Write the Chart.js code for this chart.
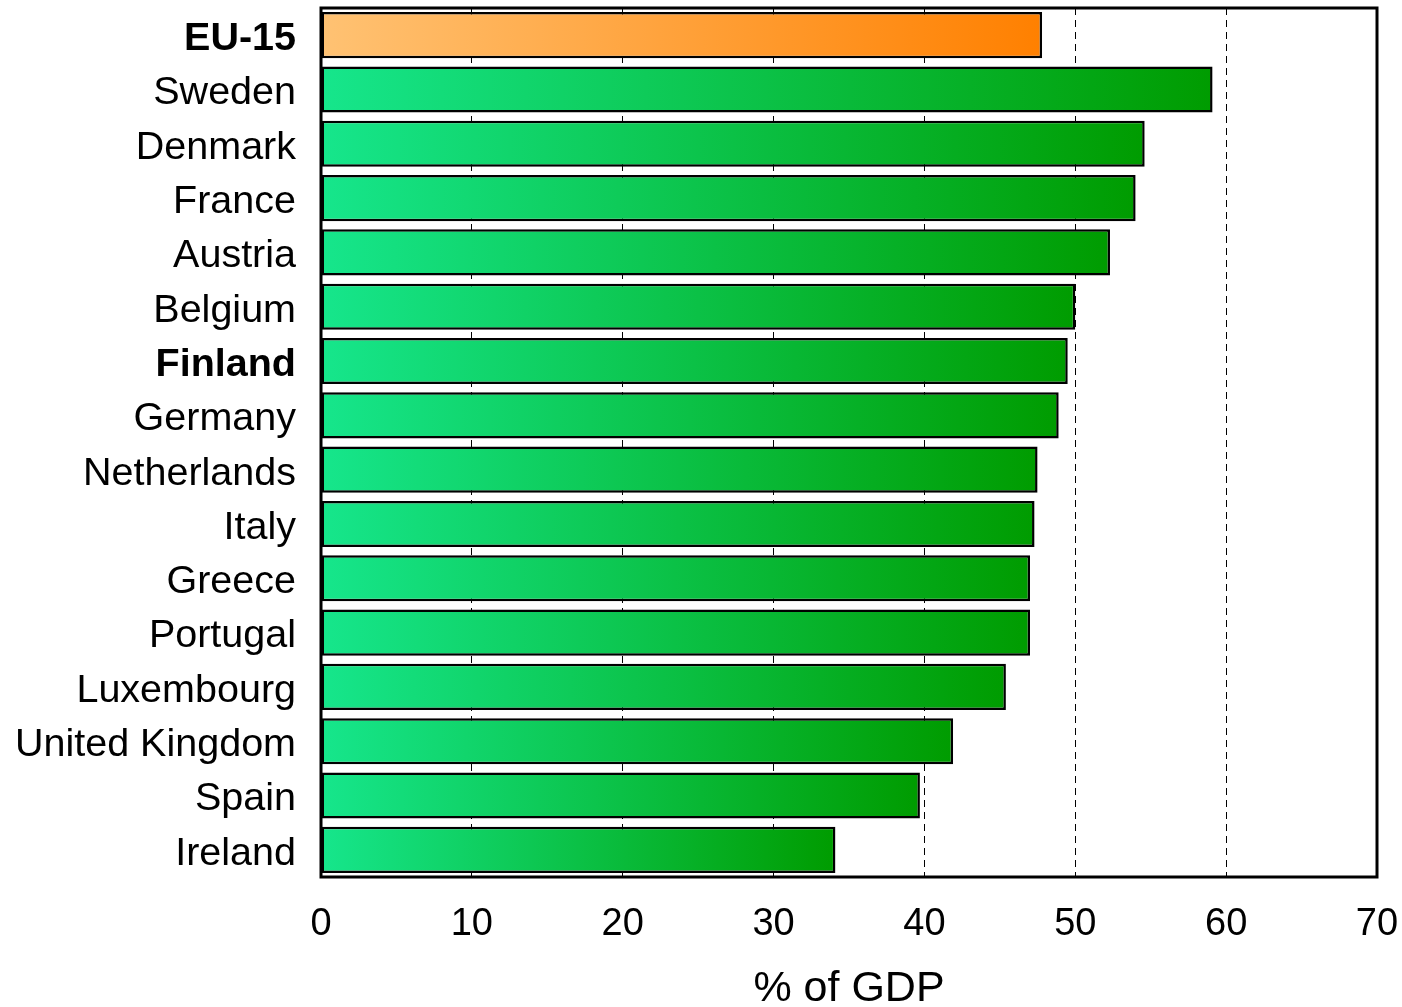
<!DOCTYPE html>
<html>
<head>
<meta charset="utf-8">
<script src="https://cdn.jsdelivr.net/npm/chart.js@4/dist/chart.umd.min.js"></script>
<style>
  html, body { margin: 0; padding: 0; background: #fff; overflow: hidden; }
  #wrap { width: 1402px; height: 1015px; }
</style>
</head>
<body>
<div id="wrap"><canvas id="c" width="1402" height="1015"></canvas></div>
<script>
const categories = ["EU-15", "Sweden", "Denmark", "France", "Austria", "Belgium", "Finland", "Germany",
  "Netherlands", "Italy", "Greece", "Portugal", "Luxembourg", "United Kingdom", "Spain", "Ireland"];
const values = [47.8, 59.1, 54.6, 54.0, 52.3, 50.0, 49.5, 48.9, 47.5, 47.3, 47.0, 47.0, 45.4, 41.9, 39.7, 34.1];
const boldLabels = ["EU-15", "Finland"];
const highlighted = ["EU-15"];
const xTitle = "% of GDP";
const xMin = 0, xMax = 70, xStep = 10;

const FONT = "'Liberation Sans', Arial, Helvetica, sans-serif";

const framePlugin = {
  id: 'frame',
  afterDraw(chart) {
    const {ctx, chartArea: a} = chart;
    ctx.save();
    ctx.strokeStyle = '#000';
    ctx.lineWidth = 3;
    ctx.strokeRect(a.left, a.top, a.right - a.left, a.bottom - a.top);
    ctx.restore();
  }
};

new Chart(document.getElementById('c'), {
  type: 'bar',
  data: {
    labels: categories,
    datasets: [{
      data: values,
      backgroundColor: (c) => {
        const chart = c.chart;
        if (!chart.chartArea || !chart.scales.x) return '#0c0';
        const xs = chart.scales.x;
        const x0 = xs.getPixelForValue(0);
        const x1 = xs.getPixelForValue(c.raw);
        const g = chart.ctx.createLinearGradient(x0, 0, Math.max(x1, x0 + 1), 0);
        const label = categories[c.dataIndex];
        if (highlighted.includes(label)) {
          g.addColorStop(0, '#ffc273');
          g.addColorStop(1, '#ff8000');
        } else {
          g.addColorStop(0, '#16e68c');
          g.addColorStop(1, '#009c00');
        }
        return g;
      },
      borderColor: '#000',
      borderWidth: 2.5,
      borderSkipped: false,
      barPercentage: 0.85,
      categoryPercentage: 1.0
    }]
  },
  options: {
    indexAxis: 'y',
    responsive: false,
    animation: false,
    devicePixelRatio: 1,
    layout: { padding: { top: 8, right: 25, left: 0, bottom: 0 } },
    plugins: { legend: { display: false }, tooltip: { enabled: false } },
    scales: {
      x: {
        min: xMin, max: xMax,
        afterFit: (s) => { s.height = 138; s.paddingLeft = 0; s.paddingRight = 0; },
        ticks: {
          stepSize: xStep,
          color: '#000',
          padding: 25,
          font: { family: FONT, size: 38 }
        },
        grid: {
          color: '#000',
          lineWidth: 1,
          drawTicks: false,
          tickLength: 0
        },
        border: { display: false, dash: [7, 5] },
        title: {
          display: true,
          text: xTitle,
          color: '#000',
          font: { family: FONT, size: 43 },
          padding: { top: 0, bottom: 0 }
        }
      },
      y: {
        afterFit: (s) => { s.width = 321; s.paddingTop = 0; s.paddingBottom = 0; },
        ticks: {
          color: '#000',
          padding: 25,
          labelOffset: 4,
          font: (c) => ({
            family: FONT,
            size: 39.5,
            weight: (c.tick && boldLabels.includes(c.tick.label)) ? 'bold' : 'normal'
          })
        },
        grid: { display: false, drawTicks: false },
        border: { display: false }
      }
    }
  },
  plugins: [framePlugin]
});
</script>
</body>
</html>
